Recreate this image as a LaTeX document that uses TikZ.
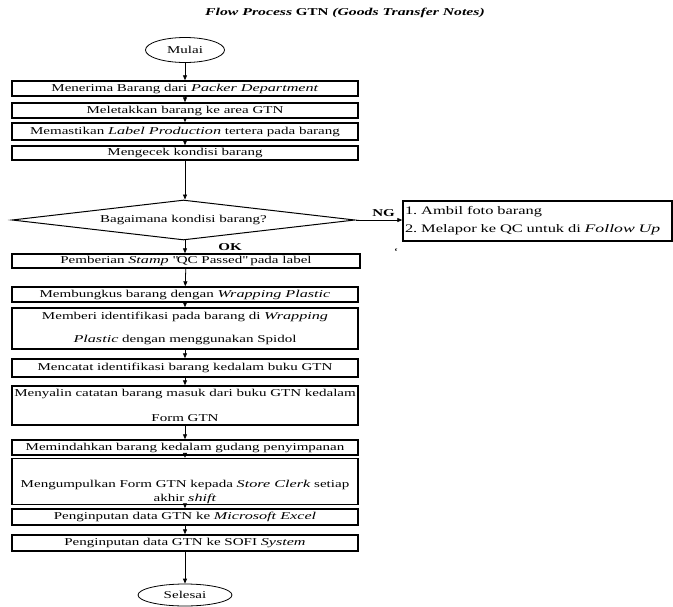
\documentclass[tikz,border=0pt]{standalone}
\usepackage{fontspec}
\setmainfont{Liberation Serif}[FakeStretch=1.43,ItalicFeatures={FakeStretch=1.54},BoldItalicFeatures={FakeStretch=1.5}]
\usetikzlibrary{arrows.meta,positioning,shapes.geometric}

\begin{document}
\frenchspacing
\begin{tikzpicture}[x=1pt,y=-1pt,font=\fontsize{10.5}{12.6}\selectfont,
proses/.style={draw,line width=1.4pt,minimum width=346pt,inner sep=1pt,align=center},
terminal/.style={draw,ellipse,line width=0.8pt,inner sep=0pt},
keputusan/.style={draw,diamond,aspect=8.6,line width=1pt,minimum width=343pt,minimum height=40pt,inner sep=0pt},
panah/.style={-{Triangle[length=5pt,width=4pt]},line width=0.8pt}]
\useasboundingbox (0,0) rectangle (673,606);
% judul
\node[font=\fontsize{10.5}{12.6}\selectfont\bfseries] (judul) at (345,13) {\textit{Flow Process} GTN \textit{(Goods Transfer Notes)}};
% alur utama
\node[terminal,minimum width=79pt,minimum height=25pt] (mulai) at (185,50) {Mulai};
\node[proses,minimum height=15pt] (b1) at (185,88.5) {Menerima Barang dari \textit{Packer Department}};
\node[proses,minimum height=15pt] (b2) at (185,110.5) {Meletakkan barang ke area GTN};
\node[proses,minimum height=17pt] (b3) at (185,131.5) {Memastikan \textit{Label Production}  tertera pada barang};
\node[proses,minimum height=14pt] (b4) at (185,153) {Mengecek kondisi barang};
\node[keputusan] (cek) at (183.5,220) {Bagaimana kondisi barang?};
\node[proses,minimum height=14pt,minimum width=348pt] (b5) at (186,261) {Pemberian \textit{Stamp}  \textquotedbl QC Passed\textquotedbl{} pada label};
\node[proses,minimum height=15pt] (b6) at (185,294.5) {Membungkus barang dengan \textit{Wrapping Plastic}};
\node[proses,minimum height=41pt] (b7) at (185,328.5) {Memberi identifikasi pada barang di \textit{Wrapping}\\[11pt]\textit{Plastic} dengan menggunakan Spidol};
\node[proses,minimum height=18pt] (b8) at (185,368) {Mencatat identifikasi barang kedalam buku GTN};
\node[proses,minimum height=39pt] (b9) at (185,405.5) {Menyalin catatan barang masuk dari buku GTN kedalam\\[12pt]Form GTN};
\node[proses,minimum height=15pt] (b10) at (185,447.5) {Memindahkan barang kedalam gudang penyimpanan};
\node[proses,minimum height=43pt] (b11) at (185,481.5) {\rule{0pt}{28pt}Mengumpulkan Form GTN kepada \textit{Store Clerk}  setiap\\[1pt]akhir \textit{shift}};
\node[proses,minimum height=16pt] (b12) at (185,517) {Penginputan data GTN ke \textit{Microsoft Excel}};
\node[proses,minimum height=16pt] (b13) at (185,543) {Penginputan data GTN ke SOFI \textit{System}};
\node[terminal,minimum width=94pt,minimum height=22pt] (selesai) at (185,595) {Selesai};
% cabang NG
\node[proses,font=\fontsize{11.5}{13}\selectfont,minimum width=269pt,minimum height=40pt,align=left,text width=265pt] (ng) at (537.5,221) {1. Ambil foto barang\\[5pt]2. Melapor ke QC untuk di \textit{Follow Up}};
\node (tanda) at (396,252) {`};
% panah
\draw[panah] (mulai.south) -- (b1.north);
\draw[panah] (b1) -- (b2);
\draw[panah] (b2) -- (b3);
\draw[panah] (b3) -- (b4);
\draw[panah] (b4.south) -- (b4.south |- cek.north);
\draw[panah] (b5.north -| b4.south) ++(0,-14) coordinate (okatas) -- (okatas |- b5.north);
\draw[panah] (cek.east) -- (ng.west |- cek.east) node[pos=0.6,above,font=\fontsize{10.5}{12.6}\selectfont\bfseries] (nglabel) {NG};
\node[font=\fontsize{10.5}{12.6}\selectfont\bfseries] (oklabel) at (230,247) {OK};
\draw[panah] (b5) -- (b6);
\draw[panah] (b6) -- (b7);
\draw[panah] (b7) -- (b8);
\draw[panah] (b8) -- (b9);
\draw[panah] (b9) -- (b10);
\draw[panah] (b10) -- (b11);
\draw[panah] (b11) -- (b12);
\draw[panah] (b12) -- (b13);
\draw[panah] (b13.south) -- (selesai.north);
\end{tikzpicture}
\end{document}
